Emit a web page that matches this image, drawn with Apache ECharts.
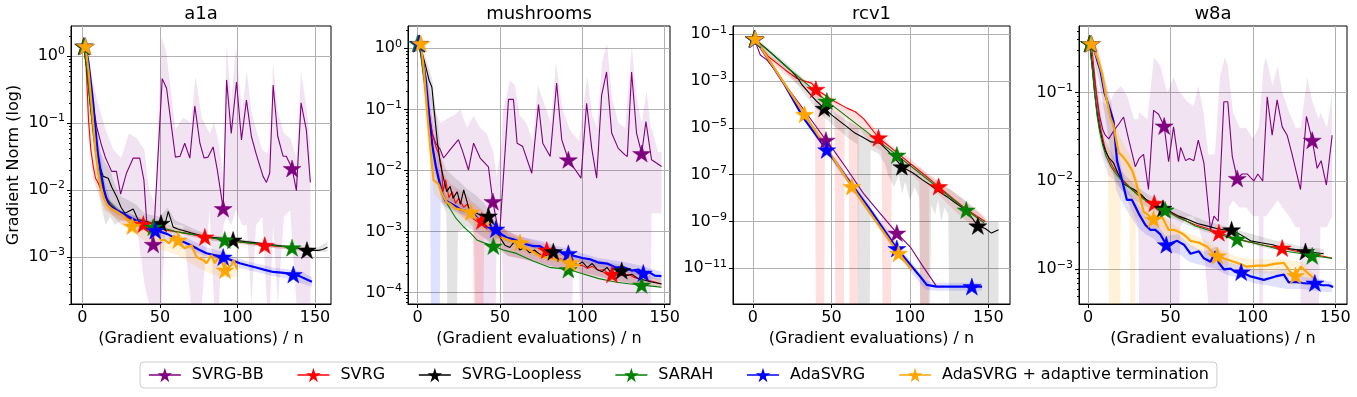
<!DOCTYPE html>
<html>
<head>
<meta charset="utf-8">
<script src="https://cdn.jsdelivr.net/npm/echarts@6/dist/echarts.min.js"></script>
<style>
  html, body { margin: 0; padding: 0; background: #fff; }
  #chart { width: 1357px; height: 397px; }
</style>
</head>
<body>
<div id="chart"></div>
<script>
// names / colours
var methods = ['SVRG-BB', 'SVRG', 'SVRG-Loopless', 'SARAH', 'AdaSVRG', 'AdaSVRG + adaptive termination'];
var datasets = ['a1a', 'mushrooms', 'rcv1', 'w8a'];
var xTicks = [0, 50, 100, 150];

// ---------- a1a ----------  [x, gradient norm]
var a1a_bb = [[1,1.4],[4,0.5],[7,0.18],[9.3,0.088],[12,0.05],[15,0.03],[18.9,0.019],[22,0.019],[24.7,0.0087],[28.5,0.018],[32.8,0.03],[37,0.03],[39.7,0.014],[41.4,0.0036],[43,0.0028],[45.7,0.00155],[51.5,0.46],[54.3,0.33],[60,0.031],[63,0.032],[66,0.05],[69.3,0.03],[72.5,0.18],[75.8,0.05],[78.5,0.03],[81,0.031],[84.3,0.044],[87,0.02],[90.8,0.0053],[93,0.44],[96,0.07],[99.4,0.41],[102.6,0.056],[105.8,0.22],[109,0.063],[112,0.035],[116.5,0.016],[118.7,0.013],[120.8,0.018],[123,0.37],[126,0.063],[129.4,0.032],[131.5,0.032],[133.7,0.025],[135.2,0.021],[138,0.0098],[141,0.2],[144.4,0.079],[147,0.013]];
var a1a_bb_star = [[1,1.4],[45.7,0.00155],[90.8,0.0053],[135.2,0.021]];
var a1a_bb_band = [[1,1.2,1.6],[5,0.15,0.6],[10,0.02,0.2],[15,0.006,0.08],[20,0.004,0.04],[25,0.003,0.03],[30,0.003,0.07],[35,0.003,0.06],[40,0.0004,0.04],[43,1e-6,0.01],[47,1e-6,0.006],[51,1e-6,1.9],[54,0.004,1.2],[60,0.003,0.08],[65,0.003,0.12],[70,1e-6,0.1],[73,1e-6,0.5],[77,1e-6,0.12],[82,0.005,0.07],[85,1e-6,0.1],[88,1e-6,0.05],[91,0.003,0.015],[93,0.004,1.5],[96,0.003,0.2],[99,0.005,1.4],[103,0.003,0.15],[106,0.003,0.6],[109,1e-6,0.15],[112,0.003,0.08],[116,0.004,0.04],[119,1e-6,0.035],[121,1e-6,0.05],[123,0.003,0.8],[126,1e-6,0.15],[130,0.004,0.07],[134,0.005,0.06],[138,1e-6,0.03],[141,1e-6,0.6],[144,1e-6,0.2],[147,1e-6,0.05]];

var a1a_svrg = [[1,1.4],[2.5,0.7],[4,0.11],[5.5,0.04],[7.1,0.022],[8.5,0.015],[10.3,0.0126],[13,0.009],[16.7,0.0067],[20,0.0055],[24,0.0046],[27.5,0.004],[32,0.0036],[36,0.0034],[39.3,0.0031],[45,0.0029],[50,0.0027],[55,0.0025],[60,0.0024],[65,0.0023],[70,0.0022],[79,0.002],[85,0.0019],[90,0.00185],[100,0.0017],[110,0.0016],[117.6,0.0015],[125,0.00145],[135,0.0014],[143,0.00132],[148,0.00128]];
var a1a_svrg_star = [[1,1.4],[39.3,0.0031],[79,0.002],[117.6,0.0015]];
var a1a_svrg_band = [[1,1.2,1.6],[4,0.06,0.2],[7,0.015,0.03],[10,0.009,0.016],[15,0.005,0.008],[25,0.0035,0.005],[40,0.0028,0.0037],[80,0.0018,0.0022],[118,0.0014,0.0016],[148,0.0012,0.0014]];

var a1a_loop = [[1,1.4],[3,0.6],[5,0.2],[7,0.08],[9,0.04],[11.4,0.022],[13.5,0.016],[16.7,0.015],[19,0.011],[22.1,0.008],[25,0.0055],[27.5,0.0045],[32.8,0.0052],[35.9,0.0036],[39.2,0.0035],[43,0.0033],[47,0.0029],[50.7,0.0032],[53,0.0029],[55.4,0.0048],[58.6,0.0028],[62,0.0026],[70,0.0023],[80,0.002],[90,0.0019],[97.2,0.0018],[105,0.0017],[115,0.0016],[125,0.0015],[135,0.0014],[144.8,0.00127],[152,0.00126],[155,0.0013],[158,0.0014]];
var a1a_loop_star = [[1,1.4],[50.7,0.0032],[97.2,0.0018],[144.8,0.00127]];
var a1a_loop_band = [[1,1.2,1.6],[5,0.1,0.3],[9,0.02,0.06],[12,0.006,0.035],[15,0.003,0.025],[18,0.004,0.02],[21,0.003,0.012],[25,0.0035,0.008],[30,0.0035,0.007],[35,0.003,0.006],[40,0.003,0.0045],[45,0.0026,0.0042],[50,0.0026,0.004],[55,0.0025,0.0055],[60,0.0024,0.0035],[80,0.0018,0.0022],[100,0.0016,0.0019],[120,0.0014,0.0016],[145,0.0012,0.0014],[152,0.0012,0.0014],[158,0.0012,0.0017]];

var a1a_sarah = [[1,1.4],[3,0.6],[5,0.2],[7,0.07],[9,0.03],[11,0.017],[13,0.011],[15,0.008],[18,0.0065],[22,0.0052],[26,0.0045],[30,0.0039],[35,0.0034],[40,0.0031],[45.7,0.0028],[50,0.0027],[55,0.0026],[60,0.0024],[70,0.0022],[80,0.002],[91.8,0.0018],[100,0.0017],[110,0.0016],[120,0.0015],[128,0.00145],[135.2,0.00138],[142,0.00132],[148,0.00127]];
var a1a_sarah_star = [[1,1.4],[45.7,0.0028],[91.8,0.0018],[135.2,0.00138]];

var a1a_ada = [[2,1.4],[4,0.8],[5.5,0.4],[7,0.2],[8.5,0.08],[10,0.035],[12,0.018],[14,0.01],[16,0.007],[18,0.0058],[22,0.005],[26,0.0045],[30,0.004],[35,0.0035],[40,0.0031],[44,0.0028],[47,0.0025],[50,0.0024],[55,0.0022],[60,0.0019],[65,0.0017],[70,0.0015],[75,0.0013],[80,0.00114],[85,0.00107],[90.8,0.001],[96,0.0009],[101.5,0.00081],[107,0.00075],[112,0.0007],[117,0.00065],[123,0.0006],[130,0.00058],[136,0.00055],[140,0.00052],[144,0.00047],[148,0.00043]];
var a1a_ada_star = [[2,1.4],[47,0.0025],[90.8,0.001],[136,0.00055]];
var a1a_ada_band = [[2,1.2,1.6],[5,0.2,0.7],[8,0.04,0.15],[11,0.015,0.05],[14,0.007,0.015],[18,0.005,0.007],[25,0.004,0.005],[35,0.003,0.004],[47,0.0021,0.003],[60,0.0016,0.0023],[70,0.0013,0.0018],[80,0.001,0.0014],[91,0.00085,0.0012],[100,0.0007,0.00095],[112,0.0006,0.0008],[123,0.00052,0.0007],[136,0.00046,0.00064],[142,0.0004,0.0006],[148,0.00036,0.0005]];

var a1a_adat = [[2,1.4],[4,0.6],[5.5,0.25],[7,0.1],[8.5,0.04],[10,0.02],[12,0.011],[14,0.0075],[16,0.006],[19,0.0052],[22,0.0048],[26,0.0042],[29,0.0036],[32.2,0.0029],[35,0.0034],[38,0.0027],[41,0.0026],[44,0.0022],[46,0.002],[48,0.0026],[50.5,0.0018],[53,0.0018],[56,0.0016],[59,0.0021],[61.8,0.0018],[64,0.0015],[66.1,0.00135],[70.4,0.0015],[73.7,0.001],[78,0.0009],[80,0.00081],[83.3,0.00107],[85.4,0.00081],[88.6,0.00105],[92,0.00064],[96.2,0.00076],[97.5,0.0009],[99.8,0.00065]];
var a1a_adat_star = [[2,1.4],[32.2,0.0029],[61.8,0.0018],[92,0.00064]];
var a1a_adat_band = [[2,1.2,1.6],[8,0.02,0.06],[14,0.005,0.01],[20,0.004,0.006],[30,0.0025,0.004],[40,0.0018,0.0032],[50,0.0013,0.0028],[60,0.0011,0.0024],[70,0.0008,0.0016],[80,0.0006,0.0012],[90,0.0005,0.0011],[100,0.0005,0.0009]];

// ---------- mushrooms ----------
var mus_bb = [[1,1.2],[3,0.5],[5,0.2],[7,0.08],[9,0.04],[11,0.028],[13.8,0.022],[15.8,0.016],[19.8,0.022],[24.8,0.032],[27.5,0.02],[30.9,0.0102],[34,0.028],[38,0.016],[43,0.0115],[45.7,0.0031],[49.7,0.00083],[55.2,0.146],[58.2,0.146],[60.4,0.028],[63.7,0.025],[69.3,0.009],[73.4,0.12],[76,0.028],[80.5,0.017],[84.4,0.27],[87.5,0.032],[91.5,0.015],[95,0.011],[99.2,0.0075],[102.6,0.126],[105.7,0.023],[108.7,0.0075],[111.7,0.17],[114.7,0.41],[117.8,0.041],[121.8,0.023],[125.9,0.018],[127.3,0.017],[129.9,0.41],[132.9,0.041],[136,0.019],[138.6,0.063],[142,0.015],[148.1,0.0116]];
var mus_bb_star = [[1,1.2],[45.7,0.0031],[91.5,0.015],[136,0.019]];
var mus_bb_band = [[1,1.0,1.5],[5,0.1,0.4],[10,0.01,0.1],[14,0.004,0.06],[18,0.003,0.07],[22,0.003,0.08],[26,0.002,0.1],[30,0.002,0.05],[34,0.0015,0.08],[35,1e-7,0.07],[38,1e-7,0.05],[42,1e-7,0.04],[46,1e-7,0.02],[47.5,1e-7,0.01],[48,0.0015,0.008],[51,0.0015,0.03],[52,1e-7,0.1],[56,1e-7,0.3],[59,1e-7,0.25],[62,1e-7,0.08],[66,1e-7,0.06],[70,1e-7,0.03],[73,1e-7,0.25],[77,1e-7,0.12],[81,1e-7,0.06],[84,1e-7,0.6],[88,1e-7,0.1],[92,1e-7,0.05],[94,1e-7,0.04],[94.5,0.0005,0.04],[98,0.0004,0.03],[98.5,1e-7,0.04],[103,1e-7,0.35],[106,1e-7,0.08],[109,1e-7,0.05],[112,1e-7,0.6],[115,1e-7,1.2],[118,1e-7,0.15],[122,1e-7,0.06],[126,1e-7,0.05],[130,1e-7,1.1],[133,1e-7,0.15],[136,1e-7,0.06],[139,1e-7,0.2],[141.5,1e-7,0.05],[142,0.002,0.05],[146,0.002,0.02],[148,0.002,0.02]];

var mus_svrg = [[1,1.2],[3,0.6],[5,0.25],[7,0.09],[9,0.04],[11,0.025],[12.7,0.019],[14.5,0.012],[15.5,0.0045],[17,0.007],[19,0.0036],[21,0.0045],[23,0.0029],[25,0.0035],[28,0.0025],[30,0.0028],[32,0.0022],[35,0.0019],[37,0.0014],[39,0.0016],[41.5,0.0012],[43,0.0013],[45,0.001],[47,0.0012],[50,0.0009],[52,0.00085],[55,0.00075],[58,0.0007],[60,0.00065],[62,0.0006],[65,0.00055],[68,0.0005],[70,0.00048],[73,0.00045],[76,0.0004],[78.4,0.0005],[81,0.00038],[84,0.00035],[87,0.00036],[90,0.0003],[93,0.00032],[96,0.00028],[100,0.00028],[103,0.00025],[106,0.00027],[110,0.00023],[113,0.00024],[116,0.0002],[118,0.0002],[121,0.00022],[124,0.00019],[128,0.0002],[131,0.00018],[134,0.00017],[137,0.00018],[140,0.00016],[144,0.00015],[148,0.000138]];
var mus_svrg_star = [[1,1.2],[39,0.0015],[78.4,0.0005],[118,0.0002]];
var mus_svrg_band = [[1,1.0,1.4],[5,0.15,0.4],[10,0.01,0.05],[15,0.003,0.01],[20,0.0025,0.006],[25,0.002,0.005],[30,0.0015,0.004],[33.5,0.0012,0.003],[34,1e-7,0.003],[40,1e-7,0.0022],[40.5,0.0008,0.002],[48,0.0006,0.0014],[55,0.0004,0.001],[65,0.00035,0.0008],[80,0.00028,0.0006],[95,0.00022,0.00038],[110,0.00018,0.0003],[125,0.00015,0.00025],[148,0.00012,0.00016]];

var mus_loop = [[1,1.2],[3,0.8],[5,0.5],[7,0.3],[8.7,0.23],[10,0.1],[12,0.03],[13.8,0.013],[15.5,0.008],[17.7,0.0045],[19.8,0.0055],[21.5,0.0035],[24,0.0045],[26,0.0028],[28,0.0048],[31,0.0025],[33,0.0022],[36,0.002],[39,0.0018],[41,0.0013],[43,0.0018],[45,0.0011],[48,0.0009],[50,0.0008],[53,0.0006],[56,0.00055],[59,0.0007],[62,0.0005],[65,0.00055],[68,0.00045],[71,0.0005],[74,0.00042],[77,0.00038],[80,0.00045],[82.4,0.00047],[85,0.00033],[88,0.00035],[91,0.0003],[94,0.00034],[97,0.00028],[100,0.00032],[103,0.00026],[106,0.0003],[109,0.00024],[112,0.00022],[115,0.00026],[118,0.0002],[121,0.00022],[124,0.00023],[127,0.00019],[130,0.0002],[134,0.00017],[138,0.00016],[142,0.00015],[148,0.00014]];
var mus_loop_star = [[1,1.2],[43,0.0018],[82.4,0.00047],[123.9,0.00023]];
var mus_loop_band = [[1,1.0,1.4],[5,0.3,0.7],[9,0.1,0.3],[12,0.015,0.06],[15,0.003,0.015],[17.5,0.002,0.01],[18,1e-7,0.01],[24,1e-7,0.007],[24.5,0.001,0.007],[30,0.0012,0.005],[35,0.001,0.004],[40,0.0008,0.003],[45,0.0006,0.002],[55,0.0004,0.0009],[65,0.00035,0.0007],[75,0.0003,0.0006],[85,0.00025,0.00045],[95,0.00022,0.0004],[105,0.0002,0.00036],[115,0.00017,0.00032],[125,0.00015,0.00028],[135,0.00013,0.00022],[148,0.00012,0.00017]];

var mus_sarah = [[0,1.2],[2,0.8],[4,0.3],[6,0.1],[8,0.04],[10,0.018],[12,0.009],[14,0.005],[16,0.0035],[17.8,0.0029],[20,0.0023],[23,0.0017],[27.9,0.0012],[32,0.00095],[36,0.00073],[40,0.00066],[46,0.00058],[52,0.0005],[60,0.00044],[70,0.00033],[80,0.00026],[91.5,0.00024],[98.6,0.00021],[110,0.00017],[120,0.00015],[128,0.00014],[136,0.000134],[142,0.000128],[148,0.000123]];
var mus_sarah_star = [[0,1.2],[46,0.00058],[91.5,0.00024],[136,0.000134]];

var mus_ada = [[1,1.2],[3,0.7],[5,0.3],[7,0.08],[9,0.025],[11,0.012],[13,0.007],[15,0.0042],[17,0.0032],[19,0.003],[21,0.0028],[23,0.0026],[26,0.0023],[29,0.0022],[32,0.002],[35,0.0018],[38,0.0015],[41,0.0012],[44,0.0013],[46,0.001],[48,0.0011],[51,0.0009],[54,0.0008],[58,0.00075],[62,0.00068],[66,0.00062],[70,0.00058],[74,0.00058],[78,0.0005],[82,0.00052],[86,0.00048],[89,0.00042],[91.5,0.00044],[95,0.0004],[100,0.00037],[105,0.00035],[110,0.00031],[115,0.0003],[120,0.00026],[125,0.00026],[130,0.00023],[134,0.00024],[137,0.00021],[140,0.00022],[144,0.00019],[148,0.000187]];
var mus_ada_star = [[1,1.2],[47.5,0.0011],[91.5,0.00044],[137,0.00021]];
var mus_ada_band = [[1,1.0,1.4],[4,0.2,0.6],[7.5,0.04,0.15],[8,1e-7,0.1],[13.5,1e-7,0.009],[14,0.003,0.008],[17,0.0025,0.004],[25,0.002,0.003],[35,0.0015,0.0022],[47,0.0008,0.0014],[60,0.0006,0.00085],[75,0.0005,0.0007],[91,0.00037,0.00052],[110,0.00026,0.00037],[125,0.00022,0.00032],[137,0.00018,0.00027],[148,0.00016,0.00022]];

var mus_adat = [[2,1.2],[4,0.4],[6,0.08],[8,0.02],[9.7,0.007],[11,0.0065],[12.7,0.006],[14.8,0.0042],[17.8,0.003],[20,0.0028],[23,0.0024],[26,0.0023],[29,0.0022],[32.4,0.0021],[35,0.0017],[38,0.0015],[40,0.0013],[42,0.0014],[44,0.0011],[46,0.0012],[48,0.0009],[51,0.0008],[54,0.00075],[57,0.0007],[60,0.00068],[62.2,0.00066],[65,0.00055],[68,0.0005],[71,0.00045],[74,0.0004],[80,0.00037],[84,0.00035],[88,0.00034],[92.6,0.00031],[95,0.00029],[98.6,0.00028]];
var mus_adat_star = [[2,1.2],[32.4,0.0021],[62.2,0.00066],[92.6,0.00031]];
var mus_adat_band = [[2,1.0,1.4],[6,0.03,0.15],[10,0.004,0.01],[15,0.003,0.006],[25,0.0018,0.003],[35,0.0013,0.0022],[45,0.0008,0.0016],[55,0.0006,0.001],[65,0.00045,0.00075],[75,0.00035,0.0005],[85,0.0003,0.00042],[98.6,0.00024,0.00034]];

// ---------- rcv1 ----------
var rcv_bb = [[1,0.065],[2.5,0.032],[4.7,0.013],[9,0.0079],[15,0.0025],[20,0.00079],[30,0.0001],[40,1.2e-5],[46.5,3e-6],[51.3,1.15e-6],[60,1.7e-7],[70.4,1.6e-8],[80,2.7e-9],[91.7,3.2e-10],[100.2,8.3e-11],[108,1.3e-11],[117.2,1.6e-12]];
var rcv_bb_star = [[1,0.065],[46.5,3e-6],[91.7,3.2e-10]];

var rcv_svrg = [[1,0.065],[10,0.011],[20.6,0.003],[28,0.0013],[37.6,0.0008],[40.1,0.00045],[46,0.00025],[52.4,0.00013],[60,7e-5],[65.2,4.9e-5],[70.5,2.5e-5],[80,3.8e-6],[90,1.1e-6],[100,3.1e-7],[110,9e-8],[118.3,3.1e-8],[128,9e-9],[135,3.8e-9],[142,1.8e-9],[148,1e-9]];
var rcv_svrg_star = [[1,0.065],[40.1,0.00045],[80,3.8e-6],[118.3,3.1e-8]];
var rcv_svrg_band = [[1,0.05,0.08],[10,0.008,0.015],[20,0.002,0.0045],[28,0.0008,0.002],[35,0.0003,0.001],[39.5,0.0002,0.0008],[40,1e-14,0.0008],[45.5,1e-14,0.0003],[46,0.00012,0.0003],[52,4e-5,0.00018],[52.5,1e-14,0.00018],[58,1e-14,8e-5],[58.5,3e-5,8e-5],[61,2e-5,7e-5],[61.5,1e-14,7e-5],[67,1e-14,4e-5],[67.5,1e-5,4e-5],[75,2e-6,1.5e-5],[82,1e-6,5e-6],[82.5,1e-14,5e-6],[88,1e-14,1.8e-6],[88.5,5e-7,1.8e-6],[100,1.2e-7,5e-7],[106,5e-8,2.2e-7],[106.5,1e-14,2.2e-7],[112,1e-14,1e-7],[112.5,3e-8,1e-7],[118,1.5e-8,6e-8],[128,3e-9,1.8e-8],[135,1.2e-9,8e-9],[142,6e-10,3.5e-9],[148,4e-10,1.6e-9]];

var rcv_loop = [[1,0.065],[10,0.02],[20,0.005],[25,0.0025],[29,0.0012],[31.2,0.0007],[36,0.0003],[40,0.00015],[45.4,6.9e-5],[50.3,3.5e-5],[55,2e-5],[60,1.1e-5],[65,6e-6],[70,4e-6],[74.7,2.6e-6],[81,2.2e-6],[85,1.2e-6],[89.6,5.9e-7],[94.9,2.2e-7],[102.3,1.15e-7],[108,6e-8],[113,3.6e-8],[118,2e-8],[123.6,1.15e-8],[128,7e-9],[134.2,3.6e-9],[138,2e-9],[143.3,6.5e-10],[148,5e-10],[152,3.2e-10],[156.5,4.4e-10]];
var rcv_loop_star = [[1,0.065],[45.4,6.9e-5],[94.9,2.2e-7],[143.3,6.5e-10]];
var rcv_loop_band = [[1,0.05,0.08],[10,0.012,0.025],[20,0.003,0.007],[30,0.0005,0.0018],[40,7e-5,0.0003],[45,3e-5,0.00012],[50,1.5e-5,6e-5],[55,8e-6,3.5e-5],[60,4e-6,2e-5],[66.5,2e-6,1.2e-5],[67,1e-14,1.1e-5],[74.5,1e-14,5e-6],[75,1.2e-6,5e-6],[80,8e-7,4e-6],[84,3e-7,3e-6],[86,1e-7,2e-6],[90,3e-8,1.2e-6],[93,1e-7,8e-7],[95,1.5e-8,5e-7],[97,5e-8,4e-7],[100,8e-9,3e-7],[103,3e-8,2.5e-7],[106,1e-8,2e-7],[106.5,1e-14,2e-7],[113,1e-14,8e-8],[113.5,5e-9,8e-8],[116,2e-9,6e-8],[118,8e-9,5e-8],[120,1e-9,4e-8],[122,4e-9,3e-8],[124.5,2e-9,2.5e-8],[125,1e-14,2.5e-8],[135,1e-14,8e-9],[145,1e-14,2e-9],[150,1e-14,1e-9],[156.5,1e-14,1e-9]];

var rcv_sarah = [[1,0.062],[10,0.019],[20,0.005],[30,0.00135],[47.1,1.4e-4],[70,9.1e-6],[91.7,6.9e-7],[115,4e-8],[135.9,3.1e-9],[147.3,8.9e-10]];
var rcv_sarah_star = [[1,0.062],[47.1,1.4e-4],[91.7,6.9e-7],[135.9,3.1e-9]];

var rcv_ada = [[1.5,0.061],[10,0.0081],[20,0.00074],[32.3,2.6e-5],[47,1.15e-6],[60,7.2e-8],[75,3e-9],[91.7,7e-11],[100,1.5e-11],[106.6,4.4e-12],[110.8,1.95e-12],[117,1.65e-12],[139.5,1.65e-12],[146,1.65e-12]];
var rcv_ada_star = [[1.5,0.061],[47,1.15e-6],[91.7,7e-11],[139.5,1.65e-12]];
var rcv_ada_band = [[1.5,0.05,0.075],[47,8e-7,1.6e-6],[91.7,4e-11,1.2e-10],[106,2.5e-12,7e-12],[110,1.2e-12,3e-12],[117,1.1e-12,2.4e-12],[146,1.1e-12,2.4e-12]];

var rcv_adat = [[1.5,0.065],[10,0.0085],[20,0.0008],[32.9,3.8e-5],[47,1.35e-6],[63,3.1e-8],[80,7.2e-10],[92.8,4.4e-11],[101.3,8.5e-12]];
var rcv_adat_star = [[1.5,0.065],[32.9,3.8e-5],[63,3.1e-8],[92.8,4.4e-11]];

// ---------- w8a ----------
var w8a_bb = [[1,0.36],[3,0.2],[5,0.1],[7,0.055],[9,0.038],[10.5,0.033],[12.6,0.03],[16,0.038],[19,0.045],[21.6,0.053],[24.6,0.03],[28.7,0.0145],[31,0.018],[33.7,0.02],[36.7,0.008],[39.8,0.063],[42.8,0.057],[46.2,0.042],[48.9,0.0165],[51.9,0.041],[54.9,0.0165],[56.2,0.024],[59.2,0.017],[61.5,0.018],[64.2,0.017],[66.9,0.029],[70.3,0.016],[74.3,0.0028],[76.4,0.004],[79,0.0035],[82.4,0.079],[84.8,0.079],[87.5,0.019],[90.5,0.0107],[93.5,0.012],[96.6,0.012],[98.5,0.011],[100.6,0.01],[103,0.012],[106,0.01],[108.7,0.09],[111.7,0.033],[114.7,0.083],[117.8,0.041],[120.8,0.033],[123.8,0.02],[128.9,0.008],[132.5,0.054],[136,0.029],[139,0.0139],[141.4,0.017],[144.6,0.009],[148.1,0.033]];
var w8a_bb_star = [[1,0.36],[46.2,0.042],[90.5,0.0107],[136,0.029]];
var w8a_bb_band = [[1,0.3,0.42],[5,0.06,0.15],[8,0.02,0.08],[12,0.012,0.07],[16,0.01,0.1],[20,0.008,0.12],[24,0.006,0.09],[28,0.004,0.05],[30.5,0.003,0.05],[31,1e-5,0.06],[36,1e-5,0.05],[40,1e-5,0.25],[44,1e-5,0.2],[48,1e-5,0.1],[52,1e-5,0.15],[55.5,1e-5,0.1],[56,0.003,0.1],[60,0.004,0.08],[64,0.004,0.07],[67,0.003,0.12],[70,0.002,0.06],[73,1e-5,0.02],[77,1e-5,0.02],[80,1e-5,0.15],[83,1e-5,0.25],[85,1e-5,0.2],[85.5,0.005,0.15],[88,0.006,0.06],[92,0.005,0.04],[96,0.005,0.04],[100,0.004,0.03],[103.5,0.004,0.04],[104,1e-5,0.05],[106,1e-5,0.15],[106.5,0.004,0.2],[108,0.004,0.25],[112,0.005,0.12],[115,0.006,0.2],[118,0.005,0.1],[122,0.004,0.06],[126,0.003,0.04],[128.5,0.003,0.04],[129,1e-5,0.04],[133,1e-5,0.15],[136,1e-5,0.08],[140,1e-5,0.05],[141,0.003,0.06],[145,0.003,0.04],[148,0.004,0.1]];

var w8a_svrg = [[2,0.36],[3.5,0.2],[5,0.1],[6.5,0.055],[8,0.037],[10,0.025],[12,0.019],[15,0.0145],[18,0.012],[21,0.0103],[25,0.0087],[30,0.0071],[35,0.0062],[40.2,0.0056],[45,0.0049],[50,0.0044],[55,0.0039],[60,0.0035],[65,0.0032],[70,0.003],[75,0.0028],[79.4,0.0026],[85,0.0024],[90,0.0022],[95,0.0021],[100,0.002],[105,0.0019],[110,0.00182],[117.8,0.00174],[125,0.00162],[130,0.00155],[135,0.00148],[140,0.00143],[148,0.00134]];
var w8a_svrg_star = [[2,0.36],[40.2,0.0056],[79.4,0.0026],[117.8,0.00174]];

var w8a_loop = [[1,0.36],[2.5,0.2],[4,0.1],[5.5,0.06],[7,0.04],[9,0.027],[10.5,0.022],[13,0.018],[15.5,0.016],[18,0.0125],[21.6,0.0093],[25,0.0085],[28,0.008],[33,0.0068],[36.7,0.0058],[40,0.0055],[45.5,0.0049],[50,0.0045],[55,0.004],[60,0.0037],[66.3,0.0033],[72,0.0031],[78,0.0029],[82,0.0028],[87.1,0.0028],[92,0.0025],[98.6,0.0021],[105,0.002],[112,0.0019],[118.8,0.00174],[125,0.00168],[131.9,0.00159],[137,0.00155],[143,0.0015]];
var w8a_loop_star = [[1,0.36],[45.5,0.0049],[87.1,0.0028],[131.9,0.00159]];
var w8a_loop_band = [[1,0.3,0.42],[5,0.08,0.13],[10,0.018,0.03],[15,0.012,0.02],[20,0.008,0.013],[30,0.0058,0.0085],[40,0.0046,0.0064],[50,0.0039,0.0052],[60,0.0032,0.0043],[70,0.0027,0.0036],[80,0.0024,0.0032],[90,0.0021,0.0028],[100,0.0019,0.0025],[110,0.0017,0.0022],[120,0.0016,0.002],[130,0.0015,0.0018],[143,0.0014,0.0017]];

var w8a_sarah = [[1,0.36],[2.5,0.2],[4,0.1],[5.5,0.055],[7,0.037],[9,0.025],[11,0.019],[14,0.0145],[17,0.012],[20,0.0103],[25,0.0085],[30,0.007],[35,0.006],[40,0.0053],[46.8,0.0047],[50,0.0043],[55,0.0038],[60,0.0035],[65,0.0031],[70,0.0029],[75,0.0027],[80,0.0025],[85,0.0023],[90.5,0.0022],[95,0.0021],[100,0.002],[105,0.0019],[110,0.0018],[115,0.0017],[120,0.0016],[125,0.00155],[130,0.0015],[136,0.00142],[142,0.00138],[148,0.00133]];
var w8a_sarah_star = [[1,0.36],[46.8,0.0047],[90.5,0.0022],[136,0.00142]];

var w8a_ada = [[2,0.36],[4,0.3],[6,0.22],[7.5,0.18],[10,0.1],[13.5,0.063],[15.5,0.047],[17.6,0.017],[20.6,0.0103],[23.6,0.0061],[26.7,0.0061],[30.7,0.0043],[34.7,0.0032],[37.8,0.0028],[40.8,0.0028],[43.8,0.0025],[47.5,0.0019],[51,0.002],[54.1,0.0021],[58.2,0.0019],[62.2,0.0015],[67.3,0.0016],[70.3,0.00133],[74.3,0.00122],[77.4,0.0016],[79.4,0.00118],[82.4,0.001],[86.5,0.00102],[89.5,0.00093],[92.9,0.00093],[98.6,0.00083],[106.7,0.00076],[113.7,0.00083],[118.8,0.00087],[121.8,0.00071],[125.9,0.00072],[130,0.0007],[133,0.00069],[137.6,0.0007],[142,0.00066],[146,0.00066],[148.7,0.00063]];
var w8a_ada_star = [[2,0.36],[47.5,0.0019],[92.9,0.00093],[137.6,0.0007]];
var w8a_ada_band = [[2,0.3,0.42],[6,0.15,0.3],[10,0.06,0.15],[14,0.02,0.08],[17,0.008,0.03],[20,0.006,0.015],[24,0.0045,0.008],[30,0.003,0.0055],[35,0.0025,0.004],[40,0.0022,0.0035],[47,0.0016,0.0024],[55,0.0015,0.0025],[62,0.0012,0.0019],[70,0.0011,0.0016],[78,0.001,0.0018],[85,0.00085,0.0012],[93,0.0008,0.0011],[100,0.0007,0.001],[110,0.00065,0.00095],[120,0.0006,0.001],[130,0.0006,0.00082],[140,0.00056,0.00078],[148,0.00055,0.00072]];

var w8a_adat = [[2,0.36],[4,0.3],[6,0.24],[8.5,0.166],[11,0.09],[13.5,0.053],[15.5,0.042],[18.6,0.021],[21,0.019],[24,0.016],[26.7,0.0133],[28.7,0.0103],[31.7,0.0064],[33.7,0.0045],[36,0.0042],[39.8,0.0037],[43.8,0.0042],[46,0.0036],[48.9,0.0028],[52.1,0.0028],[56.2,0.0026],[59,0.0024],[62.2,0.0021],[67.3,0.002],[72.3,0.0018],[76.4,0.0015],[78.4,0.00142],[84.4,0.00129],[90.5,0.00118],[96.6,0.00107],[102.6,0.0011],[108,0.0011],[113,0.00115],[118.8,0.00118],[122.8,0.00093],[125.9,0.00085],[128.9,0.00107],[133,0.00092],[137,0.00079]];
var w8a_adat_star = [[2,0.36],[39.8,0.0037],[78.4,0.00142],[125.9,0.00085]];
var w8a_adat_band = [[2,0.3,0.42],[6,0.15,0.35],[10,0.06,0.15],[12,0.04,0.1],[12.5,1e-5,0.09],[19.5,1e-5,0.03],[20,0.01,0.03],[25,0.008,0.02],[25.5,1e-5,0.02],[28.5,1e-5,0.015],[29,0.004,0.012],[35,0.003,0.006],[40,0.0028,0.0048],[50,0.0022,0.0034],[60,0.0018,0.0026],[70,0.0015,0.0022],[80,0.0012,0.0017],[90,0.001,0.0014],[100,0.0009,0.0013],[110,0.0009,0.0013],[120,0.00078,0.0013],[130,0.0008,0.0012],[137,0.0007,0.0009]];

// ---------- styling / layout ----------
var STAR = 'path://M0,-1000L224,-309L951,-309L363,118L588,809L0,382L-588,809L-363,118L-951,-309L-224,-309Z';
var FONT = 'DejaVu Sans';
var colors = ['#800080', '#ff0000', '#000000', '#008000', '#0000ff', '#ffa500'];
var lineWidths = [1.1, 1.1, 1.1, 1.1, 2.2, 2.2];
var bandFill = ['rgba(128,0,128,0.11)', 'rgba(255,0,0,0.12)', 'rgba(0,0,0,0.11)', 'rgba(0,128,0,0.12)', 'rgba(0,0,255,0.12)', 'rgba(255,165,0,0.14)'];

var lines = [
  [a1a_bb, a1a_svrg, a1a_loop, a1a_sarah, a1a_ada, a1a_adat],
  [mus_bb, mus_svrg, mus_loop, mus_sarah, mus_ada, mus_adat],
  [rcv_bb, rcv_svrg, rcv_loop, rcv_sarah, rcv_ada, rcv_adat],
  [w8a_bb, w8a_svrg, w8a_loop, w8a_sarah, w8a_ada, w8a_adat]
];
var stars = [
  [a1a_bb_star, a1a_svrg_star, a1a_loop_star, a1a_sarah_star, a1a_ada_star, a1a_adat_star],
  [mus_bb_star, mus_svrg_star, mus_loop_star, mus_sarah_star, mus_ada_star, mus_adat_star],
  [rcv_bb_star, rcv_svrg_star, rcv_loop_star, rcv_sarah_star, rcv_ada_star, rcv_adat_star],
  [w8a_bb_star, w8a_svrg_star, w8a_loop_star, w8a_sarah_star, w8a_ada_star, w8a_adat_star]
];
var bands = [
  [a1a_bb_band, a1a_svrg_band, a1a_loop_band, null, a1a_ada_band, a1a_adat_band],
  [mus_bb_band, mus_svrg_band, mus_loop_band, null, mus_ada_band, mus_adat_band],
  [null, rcv_svrg_band, rcv_loop_band, null, rcv_ada_band, null],
  [w8a_bb_band, null, w8a_loop_band, null, w8a_ada_band, w8a_adat_band]
];

// axes positions (pixels) and log10 ranges
var TOP = 26, HEIGHT = 278;
var layout = [
  { left: 71, width: 260, x: [-7.3, 160.3], y: [-3.70, 0.448], majors: [-3, -2, -1, 0], minors: true },
  { left: 408, width: 262, x: [-5.8, 153.2], y: [-4.185, 0.365], majors: [-4, -3, -2, -1, 0], minors: true },
  { left: 733, width: 277, x: [-12.7, 163.8], y: [-12.526, -0.645], majors: [-11, -9, -7, -5, -3, -1], minors: false },
  { left: 1079, width: 268, x: [-5.45, 157.1], y: [-3.393, -0.245], majors: [-3, -2, -1], minors: true }
];

function toLog(pts) {
  return pts.map(function (p) { return [p[0], Math.log10(p[1])]; });
}

function minorValues(r) {
  var out = [];
  for (var k = Math.floor(r[0]); k <= Math.ceil(r[1]); k++) {
    for (var m = 2; m <= 9; m++) {
      var v = k + Math.log10(m);
      if (v > r[0] && v < r[1]) out.push(v);
    }
  }
  return out;
}

function powLabel(v) {
  var e = Math.round(v);
  return '{b|10}{s|' + (e < 0 ? '\u2212' + (-e) : e) + '}';
}

// one polygon per band, from the upper edge forward and the lower edge back
function bandRender(band, color) {
  return function (params, api) {
    if (params.dataIndex !== 0) return null;
    var cs = params.coordSys;
    var top = cs.y, bot = cs.y + cs.height;
    var up = [], lo = [];
    for (var i = 0; i < band.length; i++) {
      var a = api.coord([band[i][0], band[i][2]]);
      var b = api.coord([band[i][0], band[i][1]]);
      up.push([a[0], Math.max(top, Math.min(bot, a[1]))]);
      lo.push([b[0], Math.max(top, Math.min(bot, b[1]))]);
    }
    return {
      type: 'polygon',
      shape: { points: up.concat(lo.reverse()) },
      style: { fill: color },
      silent: true
    };
  };
}

var grids = [], xAxes = [], yAxes = [], series = [], graphics = [];

layout.forEach(function (L, i) {
  grids.push({ left: L.left, top: TOP, width: L.width, height: HEIGHT, show: true,
    borderColor: '#000', borderWidth: 1, backgroundColor: 'transparent' });

  graphics.push({ type: 'text', x: L.left + L.width / 2, y: 14,
    style: { text: datasets[i], font: '18px "' + FONT + '"', fill: '#000', textAlign: 'center', textVerticalAlign: 'middle' } });

  xAxes.push({
    type: 'value', gridIndex: i, min: L.x[0], max: L.x[1],
    name: '(Gradient evaluations) / n', nameLocation: 'middle', nameGap: 27,
    nameTextStyle: { fontFamily: FONT, fontSize: 16, color: '#000' },
    axisLine: { show: true, onZero: false, lineStyle: { color: '#000', width: 1 } },
    axisTick: { show: true, length: 4, customValues: xTicks, lineStyle: { color: '#000' } },
    axisLabel: { customValues: xTicks, margin: 6, fontFamily: FONT, fontSize: 16, color: '#000' },
    splitLine: { show: true, lineStyle: { color: '#b0b0b0', width: 1 } }
  });

  yAxes.push({
    type: 'value', gridIndex: i, min: L.y[0], max: L.y[1],
    name: i === 0 ? 'Gradient Norm (log)' : '', nameLocation: 'middle', nameGap: 49,
    nameTextStyle: { fontFamily: FONT, fontSize: 16, color: '#000' },
    axisLine: { show: true, onZero: false, lineStyle: { color: '#000', width: 1 } },
    axisTick: { show: true, length: 4, customValues: L.majors, lineStyle: { color: '#000' } },
    axisLabel: { customValues: L.majors, margin: 6, formatter: powLabel, color: '#000',
      rich: {
        b: { fontFamily: FONT, fontSize: 16, color: '#000' },
        s: { fontFamily: FONT, fontSize: 11, color: '#000', padding: [0, 0, 9, 0] }
      } },
    splitLine: { show: true, lineStyle: { color: '#b0b0b0', width: 1 } }
  });
  // minor log ticks
  yAxes.push({
    type: 'value', gridIndex: i, min: L.y[0], max: L.y[1], position: 'left',
    axisLine: { show: false, onZero: false },
    axisTick: { show: L.minors, length: 2, customValues: minorValues(L.y), lineStyle: { color: '#000' } },
    axisLabel: { show: false },
    splitLine: { show: false }
  });

  // shaded bands
  for (var m = 0; m < 6; m++) {
    var band = bands[i][m];
    if (!band) continue;
    var bandLog = band.map(function (d) { return [d[0], Math.log10(d[1]), Math.log10(d[2])]; });
    series.push({
      type: 'custom', xAxisIndex: i, yAxisIndex: 2 * i, z: 1, silent: true,
      data: bandLog, encode: { x: 0, y: [1, 2] },
      renderItem: bandRender(bandLog, bandFill[m])
    });
  }
  // lines
  for (var m2 = 0; m2 < 6; m2++) {
    series.push({
      type: 'line', name: methods[m2], xAxisIndex: i, yAxisIndex: 2 * i, z: 2 + m2,
      data: toLog(lines[i][m2]), showSymbol: false, symbol: STAR, symbolSize: 16,
      lineStyle: { color: colors[m2], width: lineWidths[m2] },
      itemStyle: { color: colors[m2] }, silent: true
    });
  }
});

// star markers (after all lines so the legend uses the line icons)
layout.forEach(function (L, i) {
  for (var m = 0; m < 6; m++) {
    series.push({
      type: 'scatter', name: methods[m], xAxisIndex: i, yAxisIndex: 2 * i, z: 10 + m,
      data: toLog(stars[i][m]), symbol: STAR, symbolSize: [18, 17],
      itemStyle: { color: colors[m], borderColor: colors[m], borderWidth: 0.5, opacity: 1 }, silent: true
    });
  }
});

var chart = echarts.init(document.getElementById('chart'), null, { renderer: 'canvas' });
chart.setOption({
  animation: false,
  backgroundColor: '#fff',
  grid: grids,
  xAxis: xAxes,
  yAxis: yAxes,
  graphic: graphics,
  legend: {
    data: methods, left: 'center', top: 362,
    padding: [5, 8], itemGap: 33, itemWidth: 32, itemHeight: 18,
    borderColor: '#cccccc', borderWidth: 1, borderRadius: 4, backgroundColor: '#fff',
    lineStyle: { width: 1.6 },
    textStyle: { fontFamily: FONT, fontSize: 16, color: '#000', padding: [0, 0, 0, 6] }
  },
  series: series
});
</script>
</body>
</html>
